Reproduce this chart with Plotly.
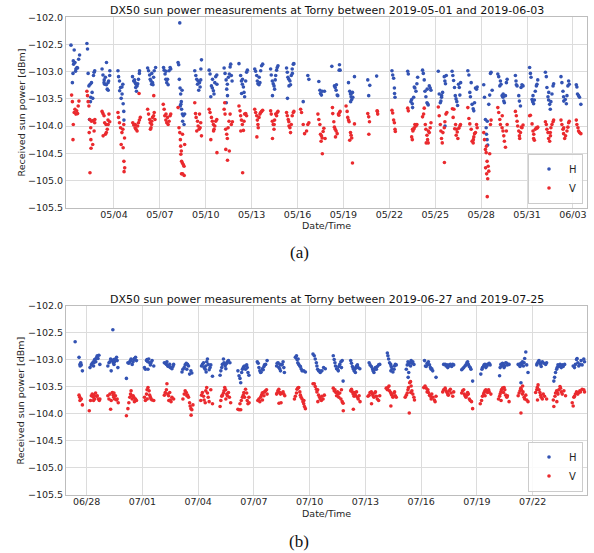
import pandas as pd
import plotly.graph_objects as go

# ---------------- data ----------------
# top panel: day-of-May (1.0 = 2019-05-01 00:00, 32 = 2019-06-01), power in dBm
TOP_H = [
 (1.19,-102.51),(1.28,-103.20),(1.32,-103.03),(1.34,-102.80),(1.36,-102.86),(1.40,-102.60),(1.45,-102.83),(1.49,-102.99),(1.51,-102.95),(1.58,-102.92),(1.62,-102.93),(1.69,-102.77),(1.75,-102.69),
 (2.23,-102.48),(2.27,-102.58),(2.31,-103.03),(2.36,-103.26),(2.40,-103.88),(2.44,-103.23),(2.46,-103.55),(2.48,-103.47),(2.53,-103.20),(2.57,-103.38),(2.61,-103.49),(2.66,-103.07),(2.70,-103.01),(2.74,-102.98),
 (3.22,-102.95),(3.28,-103.06),(3.35,-103.20),(3.36,-103.15),(3.39,-103.23),(3.44,-103.10),(3.50,-103.24),(3.51,-102.83),(3.56,-103.32),(3.61,-103.20),(3.62,-103.34),(3.65,-103.17),(3.72,-103.07),(3.73,-102.98),
 (4.26,-102.98),(4.30,-103.09),(4.36,-103.17),(4.37,-103.35),(4.43,-103.29),(4.47,-103.49),(4.52,-103.28),(4.53,-103.41),(4.58,-103.23),(4.60,-103.59),(4.64,-103.73),(4.65,-103.89),
 (5.21,-103.09),(5.29,-103.17),(5.34,-103.15),(5.38,-103.20),(5.42,-103.29),(5.44,-103.23),(5.47,-103.36),(5.51,-103.26),(5.55,-103.22),(5.60,-103.14),(5.66,-103.03),(5.67,-102.98),
 (6.20,-102.93),(6.26,-102.98),(6.33,-103.06),(6.37,-103.14),(6.42,-103.17),(6.46,-103.23),(6.47,-103.03),(6.52,-103.20),(6.55,-103.24),(6.59,-103.10),(6.63,-102.98),(6.72,-102.92),
 (7.24,-102.92),(7.28,-102.97),(7.34,-103.04),(7.39,-103.14),(7.40,-102.99),(7.45,-103.20),(7.50,-103.14),(7.54,-103.24),(7.60,-102.98),(7.67,-102.92),(7.71,-102.95),
 (8.19,-102.83),(8.23,-102.87),(8.27,-103.14),(8.30,-102.10),(8.32,-103.30),(8.33,-103.63),(8.36,-103.41),(8.37,-103.60),(8.40,-103.55),(8.42,-103.69),(8.45,-103.34),(8.47,-103.78),(8.49,-103.91),(8.53,-103.81),(8.58,-103.97),(8.62,-103.78),
 (9.28,-102.98),(9.35,-103.07),(9.41,-103.14),(9.46,-103.23),(9.50,-103.17),(9.54,-103.34),(9.59,-103.20),(9.63,-103.28),(9.67,-103.15),(9.68,-102.95),(9.72,-102.78),
 (10.22,-102.97),(10.28,-103.04),(10.33,-103.46),(10.37,-103.26),(10.43,-103.30),(10.44,-103.14),(10.50,-103.35),(10.54,-103.41),(10.59,-103.20),(10.65,-103.09),(10.72,-103.06),(10.73,-103.23),
 (11.20,-102.93),(11.26,-103.03),(11.33,-103.15),(11.34,-103.57),(11.37,-103.32),(11.41,-103.23),(11.42,-103.44),(11.48,-103.10),(11.54,-103.04),(11.59,-102.91),(11.63,-102.86),(11.67,-103.07),(11.72,-103.17),
 (12.17,-102.85),(12.28,-103.07),(12.33,-103.17),(12.34,-103.40),(12.39,-103.23),(12.40,-103.14),(12.46,-103.28),(12.50,-103.38),(12.54,-103.46),(12.61,-103.17),(12.67,-103.01),(12.72,-102.97),
 (13.20,-102.95),(13.26,-102.99),(13.33,-103.07),(13.37,-103.17),(13.41,-103.22),(13.48,-103.24),(13.49,-103.10),(13.54,-103.20),(13.59,-102.98),(13.65,-102.89),(13.72,-102.86),
 (14.24,-102.95),(14.28,-103.06),(14.35,-103.17),(14.36,-103.44),(14.41,-103.22),(14.46,-103.26),(14.50,-103.32),(14.54,-103.15),(14.57,-103.07),(14.63,-102.97),(14.67,-102.92),(14.72,-102.89),
 (15.28,-102.93),(15.33,-103.01),(15.34,-103.49),(15.37,-103.10),(15.43,-103.14),(15.44,-103.26),(15.50,-103.17),(15.54,-103.24),(15.59,-103.07),(15.65,-102.95),(15.66,-103.03),(15.72,-102.86),(15.76,-102.85),
 (16.37,-103.55),(16.67,-103.07),(16.74,-103.14),
 (17.39,-103.18),(17.46,-103.34),(17.50,-103.40),(17.56,-103.43),(17.61,-103.36),(17.76,-103.36),
 (18.24,-102.90),(18.41,-103.26),(18.46,-103.29),(18.52,-103.34),(18.54,-103.24),(18.59,-103.43),(18.63,-103.44),(18.72,-102.97),(18.74,-102.87),(18.78,-102.97),
 (19.33,-103.20),(19.41,-103.36),(19.46,-103.41),(19.47,-103.55),(19.50,-103.46),(19.51,-103.40),(19.54,-103.51),(19.59,-103.38),(19.61,-103.47),(19.72,-103.09),
 (20.59,-103.15),(20.65,-103.44),(20.72,-103.25),(21.17,-103.08),
 (22.17,-102.98),(22.22,-103.06),(22.28,-103.12),(22.33,-103.30),(22.34,-103.40),(22.37,-103.47),
 (23.20,-102.99),(23.24,-103.04),(23.41,-103.55),(23.46,-103.51),(23.50,-103.59),(23.52,-103.66),(23.59,-103.47),(23.63,-103.28),(23.67,-103.30),(23.74,-103.36),(23.80,-103.22),(23.85,-103.10),
 (24.17,-102.97),(24.22,-103.03),(24.28,-103.15),(24.33,-103.36),(24.39,-103.46),(24.46,-103.57),(24.47,-103.32),(24.50,-103.59),(24.54,-103.61),(24.61,-103.26),(24.67,-103.30),(24.72,-103.34),
 (25.20,-102.99),(25.26,-103.41),(25.33,-103.57),(25.37,-103.54),(25.41,-103.47),(25.42,-103.44),(25.48,-103.38),(25.59,-103.09),(25.63,-103.17),(25.64,-104.00),(25.67,-103.22),(25.72,-103.07),
 (26.10,-102.99),(26.15,-103.07),(26.20,-103.16),(26.26,-103.29),(26.31,-103.44),(26.36,-103.50),(26.41,-103.55),(26.46,-103.62),(26.52,-103.23),(26.57,-103.29),(26.61,-103.43),(26.66,-103.20),
 (27.13,-102.98),(27.20,-103.06),(27.26,-103.38),(27.30,-103.46),(27.35,-103.20),(27.41,-103.60),(27.48,-103.68),(27.52,-103.72),(27.57,-103.57),(27.63,-103.30),(27.70,-103.32),(27.74,-103.28),
 (28.17,-103.24),(28.22,-103.47),(28.28,-103.88),(28.33,-104.03),(28.35,-104.15),(28.39,-104.25),(28.40,-103.91),(28.43,-104.35),(28.50,-103.60),(28.56,-103.43),(28.61,-103.03),(28.65,-103.01),(28.72,-103.34),
 (29.09,-103.04),(29.15,-103.09),(29.22,-103.26),(29.26,-103.17),(29.30,-103.23),(29.37,-103.44),(29.43,-103.47),(29.44,-103.41),(29.48,-103.54),(29.52,-103.57),(29.59,-103.44),(29.65,-103.20),(29.70,-103.14),
 (30.24,-103.07),(30.28,-103.17),(30.30,-103.24),(30.35,-103.26),(30.46,-103.44),(30.50,-103.54),(30.57,-103.63),(30.61,-103.29),(30.67,-103.24),(30.74,-103.26),
 (31.17,-102.92),(31.22,-103.03),(31.26,-103.10),(31.33,-103.51),(31.37,-103.55),(31.39,-103.44),(31.43,-103.59),(31.48,-103.52),(31.54,-103.36),(31.61,-103.26),(31.65,-103.23),(31.70,-103.15),
 (32.20,-103.01),(32.26,-103.09),(32.30,-103.29),(32.37,-103.46),(32.41,-103.52),(32.42,-103.38),(32.48,-103.60),(32.52,-103.69),(32.56,-103.55),(32.63,-103.41),(32.70,-103.26),(32.74,-103.22),
 (33.22,-103.09),(33.28,-103.20),(33.35,-103.36),(33.39,-103.46),(33.40,-103.54),(33.50,-103.51),(33.57,-103.59),(33.61,-103.44),(33.67,-103.26),(33.72,-103.17),(33.76,-103.23),
 (34.22,-103.24),(34.26,-103.28),(34.30,-103.41),(34.37,-103.44),(34.43,-103.47),(34.52,-103.60),
]

TOP_V = [
 (1.23,-103.43),(1.28,-103.55),(1.32,-104.25),(1.34,-103.97),(1.40,-103.75),(1.45,-103.69),(1.51,-103.78),(1.56,-103.72),(1.62,-103.77),(1.66,-103.63),(1.71,-103.54),
 (2.23,-103.36),(2.27,-103.44),(2.31,-103.55),(2.36,-103.63),(2.38,-104.12),(2.42,-103.88),(2.43,-104.86),(2.48,-104.03),(2.49,-104.25),(2.50,-104.41),(2.53,-103.91),(2.61,-104.34),(2.64,-103.90),(2.70,-104.09),(2.74,-103.94),(2.75,-103.88),
 (3.22,-103.73),(3.28,-103.77),(3.29,-104.18),(3.35,-103.81),(3.39,-103.94),(3.44,-104.15),(3.48,-103.97),(3.50,-104.12),(3.56,-104.06),(3.61,-103.89),(3.62,-103.97),(3.67,-103.78),(3.72,-103.92),
 (4.26,-103.75),(4.30,-103.84),(4.36,-103.94),(4.43,-104.03),(4.47,-104.34),(4.52,-104.12),(4.58,-104.06),(4.60,-104.40),(4.64,-103.97),(4.65,-104.65),(4.66,-104.84),(4.69,-104.22),(4.70,-104.77),
 (5.23,-103.94),(5.29,-103.98),(5.38,-104.03),(5.39,-103.97),(5.44,-104.06),(5.51,-104.09),(5.55,-104.00),(5.60,-103.94),(5.64,-103.40),(5.66,-103.89),(5.72,-103.84),
 (6.20,-103.69),(6.26,-103.78),(6.33,-103.88),(6.37,-103.94),(6.38,-104.06),(6.42,-104.03),(6.46,-103.97),(6.47,-103.91),(6.52,-103.84),(6.59,-103.81),(6.60,-103.44),(6.63,-103.75),(6.68,-103.88),
 (7.22,-103.60),(7.28,-103.69),(7.32,-103.81),(7.39,-103.89),(7.40,-103.78),(7.45,-103.94),(7.50,-103.84),(7.54,-103.97),(7.60,-103.91),(7.67,-103.81),(7.71,-103.78),
 (8.19,-103.66),(8.25,-104.03),(8.30,-104.12),(8.34,-104.25),(8.36,-104.37),(8.37,-104.52),(8.40,-104.46),(8.41,-104.88),(8.42,-104.65),(8.47,-104.68),(8.48,-104.15),(8.49,-104.88),(8.53,-104.71),(8.58,-104.74),(8.59,-104.91),(8.62,-104.34),
 (9.28,-103.57),(9.33,-103.77),(9.37,-103.84),(9.41,-104.09),(9.46,-103.91),(9.50,-104.00),(9.56,-104.06),(9.59,-103.78),(9.63,-104.03),(9.67,-103.94),(9.72,-104.18),
 (10.22,-103.69),(10.28,-103.75),(10.33,-104.25),(10.37,-103.84),(10.43,-103.91),(10.50,-103.97),(10.51,-104.09),(10.54,-104.06),(10.59,-104.00),(10.65,-103.91),(10.72,-103.88),(10.73,-104.49),
 (11.20,-103.69),(11.24,-103.57),(11.26,-103.78),(11.30,-104.06),(11.31,-104.43),(11.37,-104.15),(11.41,-104.23),(11.42,-104.63),(11.46,-104.03),(11.52,-103.91),(11.54,-104.46),(11.59,-103.78),(11.67,-103.97),(11.74,-103.92),
 (12.17,-103.63),(12.24,-103.72),(12.28,-103.81),(12.29,-104.09),(12.33,-103.89),(12.39,-103.97),(12.41,-104.86),(12.46,-104.08),(12.50,-103.91),(12.54,-103.78),(12.61,-103.77),(12.67,-103.81),
 (13.20,-103.69),(13.26,-103.75),(13.33,-103.81),(13.34,-104.20),(13.37,-103.89),(13.41,-103.97),(13.43,-104.03),(13.48,-103.84),(13.54,-103.78),(13.59,-103.75),(13.65,-103.73),(13.72,-103.71),
 (14.24,-103.72),(14.28,-103.78),(14.35,-103.91),(14.36,-104.23),(14.41,-103.97),(14.46,-104.06),(14.47,-103.97),(14.50,-103.89),(14.57,-103.78),(14.63,-103.81),(14.67,-103.75),(14.72,-103.73),
 (15.28,-103.75),(15.33,-103.81),(15.39,-103.88),(15.43,-103.92),(15.44,-104.00),(15.50,-104.03),(15.54,-104.12),(15.59,-103.97),(15.65,-103.81),(15.72,-103.75),(15.76,-103.73),
 (16.20,-103.69),(16.26,-103.75),(16.37,-103.97),(16.46,-104.14),(16.59,-104.09),(16.67,-103.97),(16.74,-103.94),
 (17.33,-103.78),(17.39,-103.88),(17.46,-103.97),(17.50,-104.15),(17.54,-104.28),(17.56,-104.18),(17.61,-104.22),(17.62,-104.51),(17.67,-104.10),(17.72,-104.04),(17.80,-104.23),
 (18.28,-103.66),(18.30,-103.77),(18.37,-103.92),(18.41,-104.02),(18.46,-104.06),(18.48,-104.20),(18.52,-104.09),(18.59,-104.14),(18.67,-103.78),(18.70,-103.80),(18.74,-103.75),(18.78,-103.73),
 (19.17,-103.63),(19.24,-103.73),(19.28,-103.84),(19.33,-103.89),(19.37,-103.92),(19.41,-104.26),(19.46,-104.12),(19.50,-104.17),(19.54,-104.22),(19.59,-104.68),(19.72,-103.96),
 (20.59,-103.77),(20.65,-103.83),(20.66,-104.15),(20.70,-103.92),(21.20,-103.72),(21.22,-103.73),(21.24,-103.78),
 (22.17,-103.71),(22.22,-103.76),(22.28,-103.89),(22.33,-103.94),(22.37,-104.06),(22.39,-104.10),
 (23.20,-103.67),(23.24,-103.72),(23.46,-104.20),(23.50,-104.25),(23.52,-104.06),(23.54,-104.09),(23.59,-104.06),(23.63,-104.03),(23.67,-103.97),(23.74,-104.00),(23.80,-103.97),
 (24.17,-103.83),(24.24,-103.78),(24.28,-103.67),(24.35,-103.97),(24.39,-104.06),(24.41,-104.31),(24.46,-104.17),(24.50,-104.25),(24.54,-104.31),(24.55,-104.09),(24.61,-104.12),(24.67,-104.03),(24.72,-103.94),
 (25.20,-103.65),(25.26,-103.81),(25.33,-103.97),(25.37,-104.09),(25.41,-104.23),(25.46,-104.31),(25.50,-104.12),(25.59,-104.03),(25.60,-104.67),(25.63,-103.92),(25.70,-103.78),(25.76,-103.75),
 (26.12,-103.68),(26.17,-103.84),(26.22,-103.69),(26.27,-104.05),(26.33,-103.97),(26.37,-104.17),(26.39,-104.06),(26.44,-104.11),(26.48,-104.23),(26.54,-104.04),(26.61,-104.00),(26.65,-103.97),
 (27.13,-103.66),(27.20,-103.86),(27.26,-103.96),(27.35,-104.06),(27.41,-104.28),(27.48,-104.31),(27.49,-104.25),(27.52,-104.20),(27.57,-104.14),(27.63,-104.12),(27.70,-103.97),(27.74,-104.03),
 (28.17,-104.12),(28.22,-104.25),(28.28,-104.43),(28.29,-104.77),(28.33,-104.49),(28.35,-104.37),(28.36,-104.88),(28.39,-104.65),(28.40,-105.30),(28.43,-104.97),(28.46,-104.74),(28.50,-104.83),(28.56,-104.51),(28.61,-103.97),(28.65,-103.89),
 (29.09,-103.66),(29.15,-103.75),(29.22,-103.88),(29.26,-103.97),(29.37,-104.03),(29.38,-103.81),(29.43,-104.09),(29.48,-104.18),(29.52,-104.28),(29.59,-104.39),(29.65,-104.09),(29.70,-103.97),
 (30.24,-103.73),(30.30,-103.81),(30.35,-103.91),(30.39,-104.00),(30.46,-104.09),(30.50,-104.18),(30.52,-104.23),(30.57,-104.12),(30.63,-104.02),(30.67,-104.03),(30.74,-103.98),
 (31.17,-103.81),(31.22,-103.80),(31.33,-103.96),(31.39,-104.09),(31.43,-104.23),(31.44,-104.15),(31.48,-104.26),(31.54,-104.06),(31.61,-104.03),(31.65,-104.04),(31.70,-104.02),
 (32.20,-103.92),(32.26,-103.97),(32.30,-104.06),(32.37,-104.12),(32.41,-104.23),(32.48,-104.28),(32.52,-104.12),(32.53,-104.18),(32.56,-104.03),(32.63,-103.97),(32.70,-103.92),(32.74,-103.89),
 (33.22,-103.89),(33.28,-103.97),(33.35,-104.06),(33.39,-104.14),(33.40,-104.03),(33.46,-104.23),(33.52,-104.18),(33.61,-104.09),(33.67,-104.02),(33.72,-103.94),(33.76,-103.91),
 (34.22,-103.89),(34.26,-103.97),(34.33,-104.03),(34.37,-104.09),(34.43,-104.12),(34.52,-104.14),
]

# bottom panel: day counted from June (28 = 2019-06-28, 31 = 2019-07-01), power in dBm
BOT_H = [
 (27.38,-102.67),(27.59,-102.96),(27.64,-103.09),(27.65,-103.12),(27.68,-103.06),(27.71,-103.10),(27.77,-103.21),
 (28.18,-103.15),(28.25,-103.10),(28.30,-103.07),(28.36,-103.04),(28.37,-103.12),(28.39,-103.06),(28.43,-103.00),(28.48,-102.99),(28.49,-103.04),(28.54,-102.96),(28.57,-102.93),(28.61,-102.98),(28.66,-102.92),(28.71,-103.09),
 (29.14,-103.12),(29.20,-103.06),(29.25,-103.04),(29.29,-102.99),(29.32,-103.21),(29.38,-103.02),(29.41,-102.45),(29.43,-103.06),(29.46,-103.00),(29.47,-103.09),(29.50,-103.04),(29.55,-102.99),(29.61,-102.96),(29.64,-103.02),(29.68,-103.15),
 (30.14,-103.35),(30.22,-103.06),(30.27,-103.07),(30.32,-103.04),(30.36,-103.02),(30.39,-102.99),(30.45,-103.09),(30.50,-103.04),(30.54,-103.00),(30.57,-102.98),(30.63,-102.96),(30.68,-103.02),
 (31.11,-103.15),(31.16,-103.18),(31.22,-103.02),(31.25,-103.00),(31.29,-103.04),(31.30,-103.18),(31.34,-102.99),(31.39,-103.06),(31.43,-103.10),(31.46,-103.06),(31.52,-103.02),(31.61,-103.12),
 (32.18,-103.06),(32.23,-103.07),(32.29,-103.09),(32.32,-103.04),(32.36,-103.12),(32.41,-103.13),(32.47,-103.09),(32.50,-103.15),(32.59,-103.17),(32.64,-103.13),(32.68,-103.09),
 (33.13,-103.23),(33.18,-103.18),(33.25,-103.15),(33.30,-103.10),(33.36,-103.07),(33.39,-103.18),(33.43,-103.09),(33.48,-103.12),(33.54,-103.27),(33.61,-103.21),(33.66,-103.25),
 (34.18,-103.12),(34.23,-103.09),(34.29,-103.06),(34.32,-103.15),(34.38,-103.18),(34.41,-103.12),(34.43,-103.23),(34.46,-103.04),(34.50,-102.99),(34.54,-103.09),(34.59,-103.19),(34.64,-103.15),(34.68,-103.10),(34.77,-103.31),
 (35.18,-103.29),(35.22,-103.21),(35.27,-103.15),(35.30,-103.09),(35.36,-102.99),(35.39,-103.06),(35.45,-103.12),(35.48,-103.09),(35.49,-103.17),(35.54,-103.07),(35.57,-103.04),(35.63,-103.02),(35.71,-103.06),
 (36.14,-103.21),(36.20,-103.30),(36.25,-103.35),(36.29,-103.43),(36.34,-103.24),(36.38,-103.18),(36.43,-103.15),(36.46,-103.13),(36.50,-103.12),(36.55,-103.18),(36.61,-103.10),(36.64,-103.15),(36.68,-103.24),(36.73,-103.29),
 (37.18,-103.04),(37.23,-103.07),(37.27,-103.15),(37.32,-103.21),(37.36,-103.24),(37.39,-103.23),(37.45,-103.17),(37.50,-103.19),(37.54,-103.13),(37.57,-103.10),(37.63,-103.09),(37.71,-103.02),
 (38.22,-103.12),(38.25,-103.07),(38.30,-103.06),(38.34,-103.15),(38.39,-103.17),(38.40,-103.09),(38.43,-103.21),(38.46,-103.10),(38.52,-103.09),(38.57,-103.04),(38.61,-103.15),(38.64,-103.24),
 (39.23,-102.96),(39.29,-102.93),(39.32,-103.00),(39.36,-103.06),(39.38,-102.99),(39.41,-103.09),(39.47,-103.12),(39.50,-103.13),(39.54,-103.17),(39.59,-103.21),(39.68,-103.21),(39.77,-103.23),
 (40.18,-102.90),(40.25,-102.93),(40.30,-102.99),(40.36,-103.06),(40.39,-103.12),(40.43,-103.18),(40.48,-103.21),(40.54,-103.21),(40.57,-103.24),(40.66,-103.21),(40.75,-103.15),(40.84,-103.17),
 (41.27,-102.93),(41.32,-103.00),(41.36,-103.06),(41.39,-103.12),(41.45,-103.17),(41.50,-103.18),(41.54,-103.21),(41.57,-103.13),(41.62,-103.09),(41.68,-103.04),(41.71,-103.15),(41.75,-103.02),(41.80,-103.40),
 (42.21,-103.02),(42.25,-103.07),(42.30,-103.13),(42.34,-103.17),(42.39,-103.21),(42.43,-103.18),(42.46,-103.24),(42.48,-103.15),(42.52,-103.12),(42.57,-103.10),(42.61,-103.15),(42.70,-103.17),
 (43.20,-103.06),(43.25,-103.10),(43.32,-103.13),(43.38,-103.17),(43.41,-103.21),(43.46,-103.24),(43.50,-103.18),(43.54,-103.15),(43.59,-103.18),(43.64,-103.13),(43.71,-103.10),(43.77,-103.09),
 (44.18,-102.88),(44.21,-102.93),(44.25,-102.99),(44.30,-103.06),(44.36,-103.09),(44.37,-103.21),(44.39,-103.13),(44.43,-103.17),(44.48,-103.23),(44.54,-103.18),(44.57,-103.12),(44.61,-103.09),(44.66,-103.10),
 (45.20,-103.18),(45.25,-103.10),(45.29,-103.04),(45.30,-103.33),(45.32,-103.09),(45.33,-103.24),(45.38,-103.06),(45.43,-103.12),(45.46,-103.02),(45.50,-103.07),(45.55,-103.04),(45.61,-103.09),
 (46.18,-103.02),(46.23,-103.12),(46.27,-103.13),(46.32,-103.07),(46.36,-103.09),(46.39,-103.04),(46.45,-103.10),(46.50,-103.15),(46.54,-103.18),(46.57,-103.17),(46.62,-103.21),(46.80,-103.33),
 (47.21,-103.09),(47.29,-103.09),(47.34,-103.12),(47.39,-103.10),(47.43,-103.15),(47.46,-103.13),(47.52,-103.10),(47.57,-103.09),(47.64,-103.13),(47.70,-103.09),(47.75,-103.10),
 (48.18,-103.19),(48.23,-103.17),(48.29,-103.15),(48.36,-103.12),(48.41,-103.10),(48.46,-103.06),(48.50,-103.04),(48.54,-103.09),(48.59,-103.13),(48.64,-103.15),(48.68,-103.18),(48.77,-103.40),
 (49.21,-103.27),(49.27,-103.18),(49.30,-103.15),(49.36,-103.12),(49.39,-103.10),(49.43,-103.09),(49.48,-103.15),(49.54,-103.12),(49.57,-103.09),(49.66,-103.07),(49.71,-103.10),
 (50.22,-103.30),(50.25,-103.15),(50.29,-103.09),(50.32,-103.12),(50.38,-103.07),(50.43,-103.10),(50.46,-103.15),(50.50,-103.12),(50.55,-103.06),(50.61,-103.07),(50.64,-103.10),(50.73,-103.09),
 (51.22,-103.09),(51.27,-103.10),(51.32,-103.13),(51.36,-103.07),(51.37,-103.43),(51.39,-103.09),(51.45,-103.04),(51.50,-103.12),(51.54,-103.06),(51.57,-102.98),(51.63,-102.86),(51.68,-103.10),(51.75,-103.24),
 (52.22,-103.10),(52.25,-103.07),(52.30,-103.04),(52.34,-103.02),(52.39,-103.06),(52.43,-103.09),(52.46,-103.13),(52.52,-103.04),(52.61,-103.07),(52.70,-103.09),(52.75,-103.06),
 (53.14,-103.40),(53.18,-103.33),(53.23,-103.24),(53.29,-103.18),(53.32,-103.15),(53.36,-103.10),(53.41,-103.13),(53.47,-103.09),(53.50,-103.12),(53.54,-103.15),(53.59,-103.10),(53.64,-103.13),(53.72,-103.09),
 (54.18,-103.12),(54.25,-103.15),(54.30,-103.09),(54.36,-103.00),(54.39,-102.98),(54.43,-103.06),(54.48,-103.12),(54.54,-103.09),(54.61,-103.02),(54.66,-103.10),(54.75,-102.99),(54.79,-103.04),
]

BOT_V = [
 (27.59,-103.66),(27.63,-103.70),(27.64,-103.76),(27.68,-103.73),(27.71,-103.73),(27.77,-103.84),
 (28.14,-103.95),(28.21,-103.76),(28.25,-103.67),(28.30,-103.64),(28.36,-103.70),(28.37,-103.76),(28.39,-103.66),(28.43,-103.73),(28.48,-103.62),(28.54,-103.68),(28.57,-103.67),(28.63,-103.73),(28.68,-103.76),(28.71,-103.73),
 (29.14,-103.67),(29.20,-103.73),(29.25,-103.64),(29.29,-103.92),(29.32,-103.76),(29.38,-103.61),(29.43,-103.66),(29.46,-103.70),(29.47,-103.62),(29.50,-103.73),(29.55,-103.67),(29.61,-103.75),(29.64,-103.73),(29.70,-103.80),
 (30.14,-104.04),(30.22,-103.91),(30.27,-103.80),(30.32,-103.70),(30.36,-103.64),(30.39,-103.58),(30.41,-103.67),(30.45,-103.73),(30.50,-103.67),(30.54,-103.70),(30.57,-103.78),(30.63,-103.73),(30.68,-103.76),
 (31.11,-103.70),(31.16,-103.76),(31.22,-103.64),(31.25,-103.56),(31.26,-103.73),(31.30,-103.52),(31.36,-103.58),(31.39,-103.66),(31.43,-103.70),(31.46,-103.73),(31.52,-103.75),(31.61,-103.76),
 (32.18,-103.66),(32.23,-103.61),(32.29,-103.56),(32.32,-103.45),(32.36,-103.64),(32.41,-103.67),(32.42,-103.76),(32.47,-103.61),(32.50,-103.75),(32.54,-103.78),(32.59,-103.70),(32.68,-103.73),
 (33.18,-103.73),(33.25,-103.64),(33.30,-103.58),(33.36,-103.61),(33.39,-103.67),(33.43,-103.66),(33.48,-103.70),(33.54,-103.80),(33.57,-103.86),(33.61,-103.91),(33.62,-104.03),(33.66,-103.93),(33.72,-103.84),
 (34.14,-103.76),(34.18,-103.66),(34.23,-103.61),(34.29,-103.68),(34.32,-103.75),(34.38,-103.80),(34.41,-103.58),(34.46,-103.52),(34.50,-103.62),(34.54,-103.70),(34.59,-103.78),(34.68,-103.56),(34.77,-103.82),
 (35.18,-103.87),(35.22,-103.76),(35.27,-103.68),(35.30,-103.66),(35.36,-103.62),(35.39,-103.58),(35.43,-103.52),(35.48,-103.56),(35.49,-103.73),(35.54,-103.64),(35.57,-103.67),(35.63,-103.61),(35.68,-103.70),(35.75,-103.80),
 (36.14,-103.92),(36.20,-103.93),(36.25,-103.82),(36.29,-103.93),(36.32,-103.76),(36.38,-103.70),(36.43,-103.66),(36.46,-103.61),(36.50,-103.70),(36.55,-103.55),(36.61,-103.62),(36.64,-103.76),(36.68,-103.82),(36.73,-103.70),(36.74,-103.80),
 (37.21,-103.76),(37.27,-103.73),(37.32,-103.78),(37.36,-103.70),(37.41,-103.66),(37.45,-103.62),(37.46,-103.75),(37.50,-103.61),(37.54,-103.67),(37.57,-103.60),(37.63,-103.58),(37.68,-103.56),(37.71,-103.64),
 (38.22,-103.64),(38.25,-103.62),(38.29,-103.58),(38.34,-103.55),(38.35,-103.81),(38.39,-103.61),(38.43,-103.64),(38.46,-103.80),(38.52,-103.62),(38.57,-103.60),(38.61,-103.64),(38.66,-103.67),
 (39.18,-103.73),(39.23,-103.68),(39.29,-103.62),(39.32,-103.55),(39.36,-103.53),(39.41,-103.52),(39.47,-103.60),(39.50,-103.66),(39.54,-103.70),(39.59,-103.73),(39.64,-103.78),(39.68,-103.82),(39.69,-103.76),(39.72,-103.87),(39.77,-103.91),
 (40.18,-103.45),(40.25,-103.45),(40.30,-103.50),(40.36,-103.55),(40.39,-103.60),(40.43,-103.56),(40.44,-103.78),(40.48,-103.66),(40.54,-103.70),(40.57,-103.73),(40.63,-103.76),(40.66,-103.68),(40.72,-103.73),(40.79,-103.66),
 (41.27,-103.53),(41.32,-103.58),(41.36,-103.56),(41.41,-103.61),(41.45,-103.67),(41.50,-103.60),(41.54,-103.64),(41.57,-103.70),(41.62,-103.62),(41.68,-103.73),(41.71,-103.56),(41.75,-103.78),(41.80,-103.81),(41.81,-103.95),
 (42.21,-103.58),(42.25,-103.55),(42.30,-103.60),(42.34,-103.64),(42.35,-103.92),(42.39,-103.68),(42.43,-103.61),(42.46,-103.66),(42.52,-103.60),(42.57,-103.70),(42.61,-103.73),(42.66,-103.67),(42.71,-103.78),
 (43.14,-103.68),(43.20,-103.66),(43.25,-103.61),(43.32,-103.60),(43.33,-103.82),(43.38,-103.64),(43.41,-103.67),(43.46,-103.70),(43.50,-103.62),(43.54,-103.60),(43.59,-103.68),(43.64,-103.73),(43.71,-103.76),(43.77,-103.67),
 (44.12,-103.53),(44.18,-103.56),(44.21,-103.52),(44.27,-103.49),(44.30,-103.58),(44.36,-103.61),(44.37,-103.86),(44.39,-103.64),(44.43,-103.66),(44.48,-103.70),(44.54,-103.62),(44.57,-103.60),(44.61,-103.67),(44.66,-103.70),
 (45.14,-103.70),(45.20,-103.66),(45.25,-103.62),(45.29,-103.56),(45.32,-103.52),(45.36,-103.99),(45.38,-103.43),(45.43,-103.41),(45.44,-103.61),(45.46,-103.49),(45.50,-103.58),(45.55,-103.64),(45.61,-103.70),(45.64,-103.75),
 (46.14,-103.52),(46.21,-103.49),(46.27,-103.53),(46.32,-103.60),(46.36,-103.56),(46.39,-103.61),(46.45,-103.66),(46.50,-103.68),(46.54,-103.73),(46.57,-103.64),(46.63,-103.70),(46.71,-103.75),(46.75,-103.78),(46.80,-103.68),
 (47.16,-103.60),(47.21,-103.56),(47.29,-103.53),(47.34,-103.58),(47.39,-103.61),(47.43,-103.64),(47.46,-103.66),(47.52,-103.58),(47.57,-103.55),(47.61,-103.62),(47.70,-103.68),(47.75,-103.60),
 (48.18,-103.62),(48.23,-103.58),(48.29,-103.56),(48.32,-103.64),(48.36,-103.67),(48.41,-103.70),(48.46,-103.66),(48.50,-103.61),(48.54,-103.64),(48.59,-103.73),(48.64,-103.76),(48.71,-103.78),(48.77,-103.91),
 (49.18,-103.82),(49.25,-103.76),(49.30,-103.68),(49.36,-103.64),(49.39,-103.61),(49.43,-103.58),(49.44,-103.67),(49.48,-103.56),(49.54,-103.58),(49.57,-103.61),(49.63,-103.56),(49.66,-103.60),(49.75,-103.64),
 (50.16,-103.73),(50.22,-103.68),(50.25,-103.64),(50.29,-103.60),(50.30,-103.76),(50.32,-103.56),(50.38,-103.53),(50.43,-103.61),(50.46,-103.52),(50.50,-103.56),(50.55,-103.66),(50.61,-103.70),(50.64,-103.67),(50.73,-103.78),
 (51.22,-103.67),(51.27,-103.62),(51.32,-103.58),(51.36,-103.53),(51.37,-103.99),(51.39,-103.56),(51.45,-103.64),(51.46,-103.49),(51.48,-103.60),(51.54,-103.70),(51.57,-103.73),(51.63,-103.66),(51.68,-103.75),(51.75,-103.78),
 (52.16,-103.61),(52.22,-103.56),(52.25,-103.52),(52.26,-103.75),(52.29,-103.47),(52.34,-103.56),(52.39,-103.61),(52.43,-103.66),(52.46,-103.70),(52.52,-103.73),(52.57,-103.64),(52.64,-103.68),(52.75,-103.73),
 (53.11,-103.75),(53.14,-103.87),(53.20,-103.68),(53.23,-103.62),(53.29,-103.58),(53.30,-103.78),(53.32,-103.61),(53.36,-103.64),(53.41,-103.56),(53.47,-103.50),(53.50,-103.53),(53.54,-103.60),(53.59,-103.64),(53.68,-103.58),(53.77,-103.67),
 (54.13,-103.80),(54.18,-103.86),(54.22,-103.70),(54.25,-103.68),(54.30,-103.64),(54.36,-103.60),(54.39,-103.62),(54.43,-103.64),(54.48,-103.61),(54.54,-103.58),(54.57,-103.60),(54.66,-103.55),(54.75,-103.56),(54.79,-103.60),
]

TOP_BASE = "2019-04-30"   # day 1 -> 2019-05-01
BOT_BASE = "2019-05-31"   # day 28 -> 2019-06-28
TOP_RANGE = ["2019-04-30 20:43", "2019-06-03 22:05"]
BOT_RANGE = ["2019-06-26 21:19", "2019-07-24 22:10"]
TOP_TICKS = ["2019-05-04", "2019-05-07", "2019-05-10", "2019-05-13", "2019-05-16", "2019-05-19",
             "2019-05-22", "2019-05-25", "2019-05-28", "2019-05-31", "2019-06-03"]
TOP_TICK_TEXT = ["05/04", "05/07", "05/10", "05/13", "05/16", "05/19", "05/22", "05/25", "05/28", "05/31", "06/03"]
BOT_TICKS = ["2019-06-28", "2019-07-01", "2019-07-04", "2019-07-07", "2019-07-10", "2019-07-13",
             "2019-07-16", "2019-07-19", "2019-07-22"]
BOT_TICK_TEXT = ["06/28", "07/01", "07/04", "07/07", "07/10", "07/13", "07/16", "07/19", "07/22"]
Y_TICKS = [-102.0, -102.5, -103.0, -103.5, -104.0, -104.5, -105.0, -105.5]
Y_TICK_TEXT = ["\u2212102.0", "\u2212102.5", "\u2212103.0", "\u2212103.5", "\u2212104.0", "\u2212104.5", "\u2212105.0", "\u2212105.5"]
TOP_TITLE = "DX50 sun power measurements at Torny between 2019-05-01 and 2019-06-03"
BOT_TITLE = "DX50 sun power measurements at Torny between 2019-06-27 and 2019-07-25"
Y_LABEL = "Received sun power [dBm]"
X_LABEL = "Date/Time"

BLUE = "#3353b3"
RED = "#ea2a2e"
GRID = "#dcdcdc"
FONT = "DejaVu Sans"


def to_xy(points, base):
    days = [p[0] for p in points]
    vals = [p[1] for p in points]
    x = pd.Timestamp(base) + pd.to_timedelta(days, unit="D")
    return x, vals


fig = go.Figure()
for pts, base, name, color, xa, ya, lg in [
    (TOP_H, TOP_BASE, "H", BLUE, "x", "y", "legend"),
    (TOP_V, TOP_BASE, "V", RED, "x", "y", "legend"),
    (BOT_H, BOT_BASE, "H", BLUE, "x2", "y2", "legend2"),
    (BOT_V, BOT_BASE, "V", RED, "x2", "y2", "legend2"),
]:
    x, y = to_xy(pts, base)
    fig.add_trace(go.Scatter(x=x, y=y, mode="markers", name=name, xaxis=xa, yaxis=ya, legend=lg,
                             marker=dict(color=color, size=3.6, line=dict(width=0))))

W, H = 594, 553
def px(v):
    return v / W
def py(v):
    # vertical placement, slightly stretched about the page centre
    v = 276 + (v - 276) / 0.98
    return 1 - v / H

xcommon = dict(type="date", showgrid=True, gridcolor=GRID, gridwidth=1, showline=True, linecolor="#bdbdbd",
               mirror=True, ticks="", zeroline=False, ticklabelstandoff=-2,
               tickfont=dict(family=FONT, size=9.5, color="#262626"))
ycommon = dict(range=[-105.5, -102.0], tickvals=Y_TICKS, ticktext=Y_TICK_TEXT, showgrid=True, gridcolor=GRID,
               showline=True, linecolor="#bdbdbd", mirror=True, ticks="",
               zeroline=False, tickfont=dict(family=FONT, size=9.5, color="#262626"))

legend_common = dict(xanchor="right", yanchor="bottom", bgcolor="rgba(255,255,255,0.85)", bordercolor="#cccccc",
                     borderwidth=1, font=dict(family=FONT, size=10, color="#262626"), itemwidth=30,
                     tracegroupgap=0, itemclick=False)

fig.update_layout(
    width=W, height=H, margin=dict(l=0, r=0, t=0, b=0), plot_bgcolor="white", paper_bgcolor="white",
    showlegend=True,
    xaxis=dict(domain=[px(66), px(587)], anchor="y", range=TOP_RANGE, tickvals=TOP_TICKS, ticktext=TOP_TICK_TEXT, **xcommon),
    yaxis=dict(domain=[py(207), py(17)], anchor="x", **ycommon),
    xaxis2=dict(domain=[px(66), px(587)], anchor="y2", range=BOT_RANGE, tickvals=BOT_TICKS, ticktext=BOT_TICK_TEXT, **xcommon),
    yaxis2=dict(domain=[py(494), py(305)], anchor="x2", **ycommon),
    legend=dict(x=px(583), y=py(203), **legend_common),
    legend2=dict(x=px(583), y=py(491), **legend_common),
)

ann = []
tf = dict(family=FONT, size=11, color="#111111")
lf = dict(family=FONT, size=9.5, color="#262626")
ann.append(dict(text=TOP_TITLE, x=px(326.5), y=py(10.5), font=tf))
ann.append(dict(text=BOT_TITLE, x=px(326.5), y=py(299), font=tf))
ann.append(dict(text=X_LABEL, x=px(326.5), y=py(225), font=lf))
ann.append(dict(text=X_LABEL, x=px(326.5), y=py(513), font=lf))
ann.append(dict(text=Y_LABEL, x=px(21), y=py(112), font=lf, textangle=-90))
ann.append(dict(text=Y_LABEL, x=px(21), y=py(400), font=lf, textangle=-90))
ann.append(dict(text="(a)", x=px(299), y=py(252), font=dict(family="Liberation Serif", size=17, color="#111111")))
ann.append(dict(text="(b)", x=px(299), y=py(541), font=dict(family="Liberation Serif", size=17, color="#111111")))
for a in ann:
    a.update(xref="paper", yref="paper", xanchor="center", yanchor="middle", showarrow=False)
fig.update_layout(annotations=ann)

fig.write_html(
    "out.html",
    config={"displayModeBar": False, "staticPlot": True},
    post_script=(
        "document.documentElement.style.margin='0';document.body.style.margin='0';"
        "document.body.style.padding='0';document.documentElement.style.overflow='hidden';"
        "document.body.style.overflow='hidden';"
    ),
)
